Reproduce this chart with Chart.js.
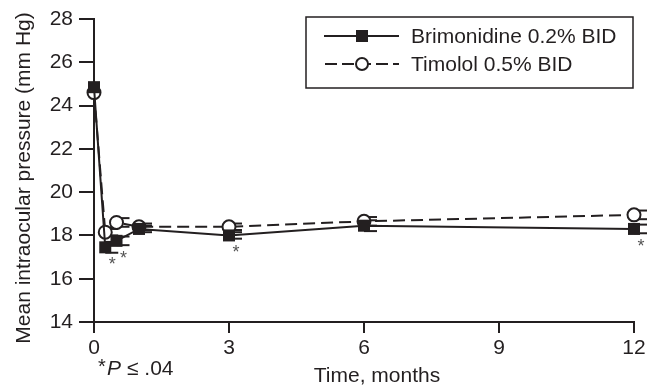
<!DOCTYPE html>
<html>
<head>
<meta charset="utf-8">
<script src="https://cdn.jsdelivr.net/npm/chart.js@4"></script>
<style>
  body { margin: 0; background: #fff; }
  #wrap { width: 652px; height: 389px; position: relative; }
</style>
</head>
<body>
<div id="wrap"><canvas id="iopChart"></canvas></div>
<script>
// time points (months) and mean IOP values
const months = [0, 0.25, 0.5, 1, 3, 6, 12];
const brimonidine = [24.85, 17.45, 17.75, 18.3, 18.0, 18.45, 18.3];
const timolol = [24.6, 18.15, 18.6, 18.4, 18.4, 18.65, 18.95];
const brimErr = [0, 0.25, 0.2, 0.15, 0.15, 0.25, 0.2];
const timErr = [0, 0.15, 0.2, 0.15, 0.15, 0.2, 0.2];
const brimSig = [false, true, true, false, true, false, true]; // * P <= .04
const xTicks = [0, 3, 6, 9, 12];
const yTicks = [14, 16, 18, 20, 22, 24, 26, 28];
const seriesNames = ['Brimonidine 0.2% BID', 'Timolol 0.5% BID'];

const ink = '#231f20';
const font = '"Liberation Sans", Arial, Helvetica, sans-serif';

function toPoints(vals) {
    return months.map((m, i) => ({ x: m, y: vals[i] }));
}

// small right-hand error caps (vertical part hides behind markers)
const errorCaps = {
    id: 'errorCaps',
    beforeDatasetsDraw(chart) {
        const ctx = chart.ctx;
        const xs = chart.scales.x, ys = chart.scales.y;
        const sets = [[timolol, timErr], [brimonidine, brimErr]];
        ctx.save();
        ctx.strokeStyle = ink;
        ctx.lineWidth = 2;
        sets.forEach(([vals, errs]) => {
            vals.forEach((v, i) => {
                if (!errs[i]) return;
                const px = xs.getPixelForValue(months[i]);
                [v + errs[i], v - errs[i]].forEach(e => {
                    const py = ys.getPixelForValue(e);
                    ctx.beginPath();
                    ctx.moveTo(px, py);
                    ctx.lineTo(px + 13, py);
                    ctx.stroke();
                });
                ctx.beginPath();
                ctx.moveTo(px, ys.getPixelForValue(v + errs[i]));
                ctx.lineTo(px, ys.getPixelForValue(v - errs[i]));
                ctx.stroke();
            });
        });
        ctx.restore();
    }
};

// legend box, stars, axis titles and footnote
const extras = {
    id: 'extras',
    afterDraw(chart) {
        const ctx = chart.ctx;
        const xs = chart.scales.x, ys = chart.scales.y;
        ctx.save();

        // stars under significant brimonidine points
        ctx.fillStyle = '#555';
        ctx.font = '18px ' + font;
        ctx.textAlign = 'center';
        ctx.textBaseline = 'middle';
        brimSig.forEach((s, i) => {
            if (!s) return;
            ctx.fillText('*', xs.getPixelForValue(months[i]) + 7, ys.getPixelForValue(brimonidine[i]) + 18);
        });

        // legend
        ctx.strokeStyle = ink;
        ctx.lineWidth = 1.5;
        ctx.strokeRect(306, 17, 327, 71);
        ctx.fillStyle = ink;
        ctx.font = '21px ' + font;
        ctx.textAlign = 'left';
        ctx.textBaseline = 'middle';
        const rows = [36, 64];
        ctx.lineWidth = 2;
        // brimonidine sample
        ctx.beginPath();
        ctx.moveTo(324, rows[0]); ctx.lineTo(399, rows[0]); ctx.stroke();
        ctx.fillRect(356, rows[0] - 6, 12, 12);
        ctx.fillText(seriesNames[0], 411, rows[0] + 1);
        // timolol sample
        ctx.setLineDash([12, 5]);
        ctx.beginPath();
        ctx.moveTo(325, rows[1]); ctx.lineTo(399, rows[1]); ctx.stroke();
        ctx.setLineDash([]);
        ctx.beginPath();
        ctx.arc(362, rows[1], 6, 0, Math.PI * 2);
        ctx.fillStyle = '#fff';
        ctx.fill();
        ctx.stroke();
        ctx.fillStyle = ink;
        ctx.fillText(seriesNames[1], 411, rows[1] + 1);

        // axis titles
        ctx.textAlign = 'center';
        ctx.font = '21px ' + font;
        ctx.fillText('Time, months', 377, 376);
        ctx.save();
        ctx.translate(24, 178);
        ctx.rotate(-Math.PI / 2);
        ctx.fillText('Mean intraocular pressure (mm Hg)', 0, 0);
        ctx.restore();

        // footnote *P ≤ .04
        ctx.textAlign = 'left';
        ctx.font = '20px ' + font;
        ctx.fillText('*', 98, 367);
        ctx.font = 'italic 21px ' + font;
        ctx.fillText('P', 107, 369);
        ctx.font = '21px ' + font;
        ctx.fillText('\u2264 .04', 127, 369);

        ctx.restore();
    }
};

const iopChart = new Chart(document.getElementById('iopChart'), {
    type: 'line',
    data: {
        datasets: [{
            label: seriesNames[1],
            data: toPoints(timolol),
            borderColor: ink,
            borderWidth: 2,
            borderDash: [12, 6],
            pointStyle: 'circle',
            pointRadius: 6.5,
            pointBorderWidth: 2,
            pointBackgroundColor: '#fff',
            pointBorderColor: ink,
            tension: 0,
            clip: false,
            order: 2
        }, {
            label: seriesNames[0],
            data: toPoints(brimonidine),
            borderColor: ink,
            borderWidth: 2,
            pointStyle: 'rect',
            pointRadius: 8.5,
            pointBorderWidth: 0,
            pointBackgroundColor: ink,
            pointBorderColor: ink,
            tension: 0,
            clip: false,
            order: 1
        }]
    },
    options: {
        responsive: true,
        maintainAspectRatio: false,
        animation: false,
        layout: { padding: { left: 0, right: 18, top: 19, bottom: 0 } },
        plugins: {
            legend: { display: false },
            tooltip: { enabled: false }
        },
        scales: {
            x: {
                type: 'linear',
                min: 0,
                max: 12,
                afterFit(scale) { scale.height = 67; },
                afterBuildTicks(scale) { scale.ticks = xTicks.map(v => ({ value: v })); },
                grid: { drawOnChartArea: false, drawTicks: true, tickLength: 11, lineWidth: 2, color: ink },
                border: { display: true, color: ink, width: 2 },
                ticks: { color: ink, padding: 3, font: { size: 21, family: font }, maxRotation: 0 }
            },
            y: {
                min: 14,
                max: 28,
                afterFit(scale) { scale.width = 94; },
                afterBuildTicks(scale) { scale.ticks = yTicks.map(v => ({ value: v })); },
                grid: { drawOnChartArea: false, drawTicks: true, tickLength: 15, lineWidth: 2, color: ink },
                border: { display: true, color: ink, width: 2 },
                ticks: { color: ink, padding: 6, font: { size: 21, family: font } }
            }
        }
    },
    plugins: [errorCaps, extras]
});
</script>
</body>
</html>
